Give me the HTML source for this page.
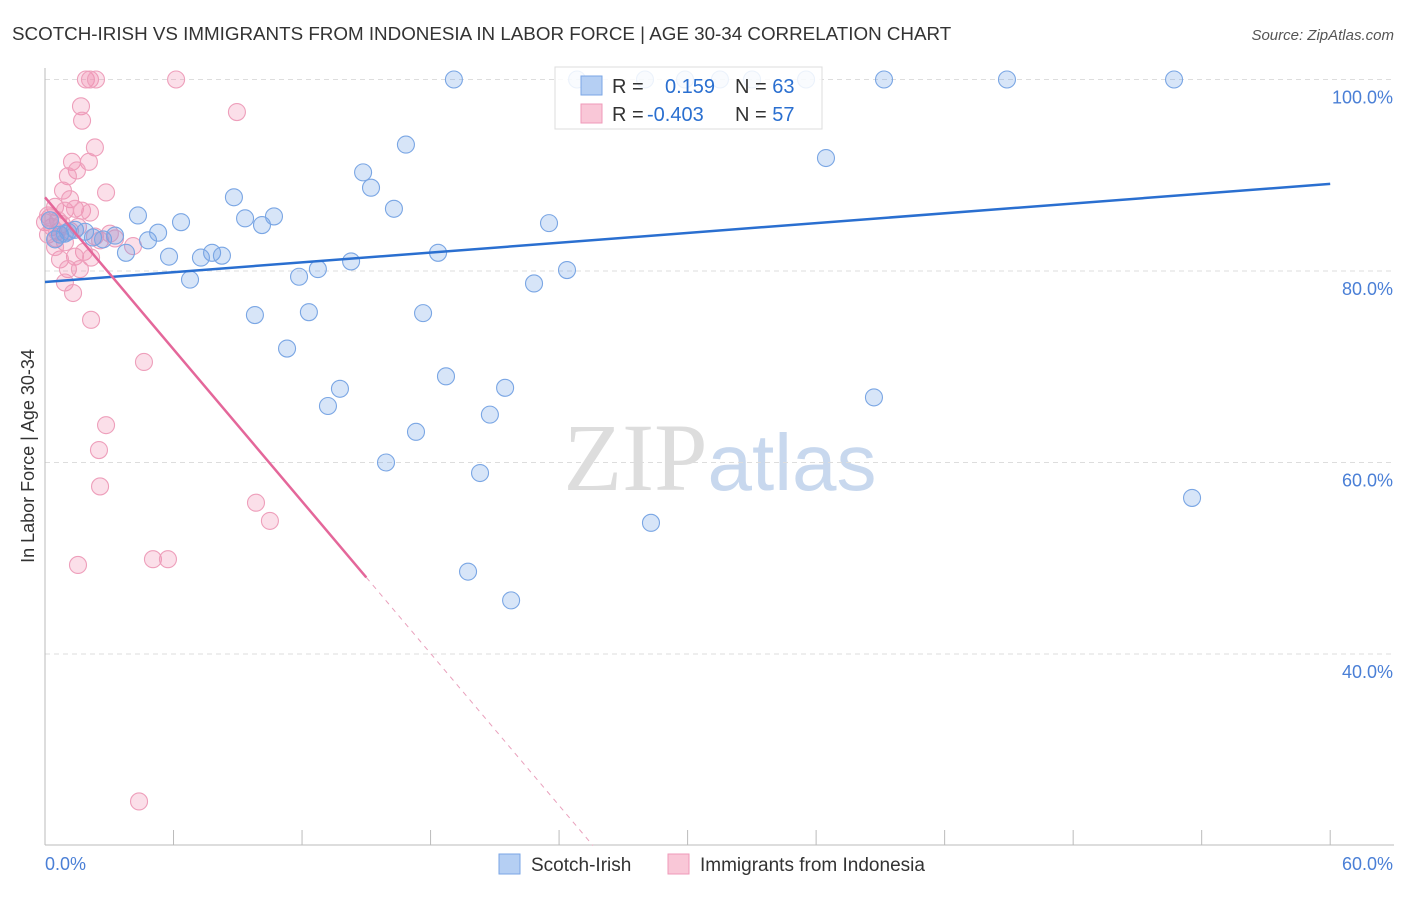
<!DOCTYPE html>
<html><head><meta charset="utf-8"><style>
body{margin:0;background:#fff;font-family:"Liberation Sans",sans-serif;}
</style></head><body>
<svg id="chart" width="1406" height="892" xmlns="http://www.w3.org/2000/svg" font-family="Liberation Sans, sans-serif">
<text x="12" y="40" font-size="18.8" fill="#333">SCOTCH-IRISH VS IMMIGRANTS FROM INDONESIA IN LABOR FORCE | AGE 30-34 CORRELATION CHART</text>
<text x="1394" y="40" font-size="15" fill="#555" text-anchor="end" font-style="italic">Source: ZipAtlas.com</text>
<text x="720" y="490" font-size="96" text-anchor="middle" fill="#ddd" font-family="Liberation Serif, serif">ZIP<tspan fill="#c8d8ee" font-family="Liberation Sans, sans-serif" font-size="80">atlas</tspan></text>
<g id="grid"></g><g id="axes"></g><g id="marks"></g><g id="legend"></g>
<text transform="translate(34,456) rotate(-90)" font-size="18" fill="#333" text-anchor="middle">In Labor Force | Age 30-34</text>
</svg>
<script>
const yTicks=[40,60,80,100];
const xTickLabels=["0.0%","60.0%"];
const blueX=[0.47,0.70,1.07,1.40,1.87,2.24,2.71,3.27,3.78,4.34,4.81,5.28,5.79,6.35,6.77,7.28,7.80,8.26,8.82,9.34,9.80,10.13,10.69,11.30,11.86,12.32,12.74,13.21,13.77,14.29,14.85,15.22,15.92,16.29,16.85,17.32,17.65,18.35,18.72,19.09,19.75,20.31,20.77,21.48,21.76,22.83,23.53,24.37,24.84,28.01,28.29,29.88,31.51,33.01,35.53,36.46,38.70,39.17,44.91,52.71,53.55,0.23,0.93];
const blueY=[83.3,83.8,84.1,84.3,84.1,83.5,83.3,83.7,81.9,85.8,83.2,84.0,81.5,85.1,79.1,81.4,81.9,81.6,87.7,85.5,75.4,84.8,85.7,71.9,79.4,75.7,80.2,65.9,67.7,81.0,90.3,88.7,60.0,86.5,93.2,63.2,75.6,81.9,69.0,100,48.6,58.9,65.0,67.8,45.6,78.7,85.0,80.1,100,100,53.7,100,100,100,100,91.8,66.8,100,100,100,56.3,85.3,83.9];
const pinkX=[1.91,2.10,2.38,6.12,8.96,1.68,1.73,2.33,2.05,1.26,1.49,1.07,0.84,2.85,1.17,0.47,0.93,1.40,1.73,2.10,0.23,0.61,0,0.33,0.79,1.17,1.54,0.14,0.51,0.93,2.33,2.57,3.27,4.11,1.82,1.40,2.15,0.70,1.07,1.63,0.93,1.31,2.15,4.62,2.85,2.52,2.57,9.85,10.50,5.04,5.74,1.54,4.39,0.47,3.03,0.14,0.56];
const pinkY=[100,100,100,100,96.6,97.2,95.7,92.9,91.4,91.4,90.5,89.9,88.4,88.2,87.5,86.7,86.3,86.5,86.3,86.1,85.6,85.3,85.1,84.6,84.9,84.2,84.6,83.8,83.4,83.0,83.6,83.2,83.4,82.6,82.0,81.5,81.4,81.2,80.2,80.2,78.8,77.7,74.9,70.5,63.9,61.3,57.5,55.8,53.9,49.9,49.9,49.3,24.6,82.5,83.9,85.8,84.1];
const blueFit=[78.85,89.1];
const pinkFit=[87.7,48.0];
const X=v=>45+v*21.42, Y=v=>79.5+(100-v)*9.575;
const ns="http://www.w3.org/2000/svg";
function mk(p,t,a){const e=document.createElementNS(ns,t);for(const k in a)e.setAttribute(k,a[k]);p.appendChild(e);return e;}
const grid=document.getElementById('grid'),axes=document.getElementById('axes'),marks=document.getElementById('marks'),leg=document.getElementById('legend');
yTicks.forEach(t=>{const l=mk(grid,'line',{x1:45,x2:1394,y1:Y(t),y2:Y(t),stroke:'#ddd','stroke-dasharray':'5,4'});


const tx=mk(axes,'text',{x:1393,y:Y(t)+24,'font-size':18,fill:'#4a7fd6','text-anchor':'end'});tx.textContent=t.toFixed(1)+'%';

});
let ax=mk(axes,'line',{x1:45,x2:45,y1:68,y2:845,stroke:'#bbb'});


ax=mk(axes,'line',{x1:45,x2:1394,y1:845,y2:845,stroke:'#bbb'});


for(let i=0;i<=10;i++){const t=mk(axes,'line',{x1:X(i*6),x2:X(i*6),y1:830,y2:845,stroke:'#bbb'});

}
xTickLabels.forEach((s,i)=>{const t=mk(axes,'text',{x:i?1393:45,y:870,'font-size':18,fill:'#4a7fd6','text-anchor':i?'end':'start'});t.textContent=s;

});
pinkX.forEach((x,i)=>{const c=mk(marks,'circle',{cx:X(x),cy:Y(pinkY[i]),r:8.5,fill:'rgba(240,140,175,0.28)',stroke:'#ee9fbb','stroke-width':1.1});

});
blueX.forEach((x,i)=>{const c=mk(marks,'circle',{cx:X(x),cy:Y(blueY[i]),r:8.5,fill:'rgba(110,160,230,0.28)',stroke:'#7aa6e4','stroke-width':1.1});

});
let l=mk(marks,'line',{x1:X(0),y1:Y(blueFit[0]),x2:X(60),y2:Y(blueFit[1]),stroke:'#2a6fd0','stroke-width':2.5});


l=mk(marks,'line',{x1:X(0),y1:Y(pinkFit[0]),x2:X(15),y2:Y(pinkFit[1]),stroke:'#e4679a','stroke-width':2.5});


const slope=(pinkFit[1]-pinkFit[0])/15, xEnd=(20-pinkFit[0])/slope;
l=mk(marks,'line',{x1:X(15),y1:Y(pinkFit[1]),x2:X(xEnd),y2:Y(20),stroke:'#e9a0bc','stroke-width':1,'stroke-dasharray':'5,5'});


const lb=mk(leg,'rect',{x:555,y:67,width:267,height:62,fill:'rgba(255,255,255,0.85)',stroke:'#ddd'});


[[ '#b5cff3','#7aa6e6','0.159','63'],['#f9c7d7','#ef9ab8','-0.403','57']].forEach((r,i)=>{const y=85+i*28;
const s=mk(leg,'rect',{x:581,y:y-9,width:21,height:19,fill:r[0],stroke:r[1]});


const t=mk(leg,'text',{x:612,y:y+8,'font-size':20,fill:'#333'});
t.innerHTML='R = <tspan fill="#2a6fd0" x="'+(i?647:665)+'">'+r[2]+'</tspan><tspan fill="#333" x="735">N = </tspan><tspan fill="#2a6fd0">'+r[3]+'</tspan>';

});
[['#b5cff3','#7aa6e6','Scotch-Irish',499],['#f9c7d7','#ef9ab8','Immigrants from Indonesia',668]].forEach(r=>{
const s=mk(leg,'rect',{x:r[3],y:854,width:21,height:20,fill:r[0],stroke:r[1]});


const t=mk(leg,'text',{x:r[3]+32,y:871,'font-size':19,fill:'#333'});t.textContent=r[2];

});
</script>
</body></html>
